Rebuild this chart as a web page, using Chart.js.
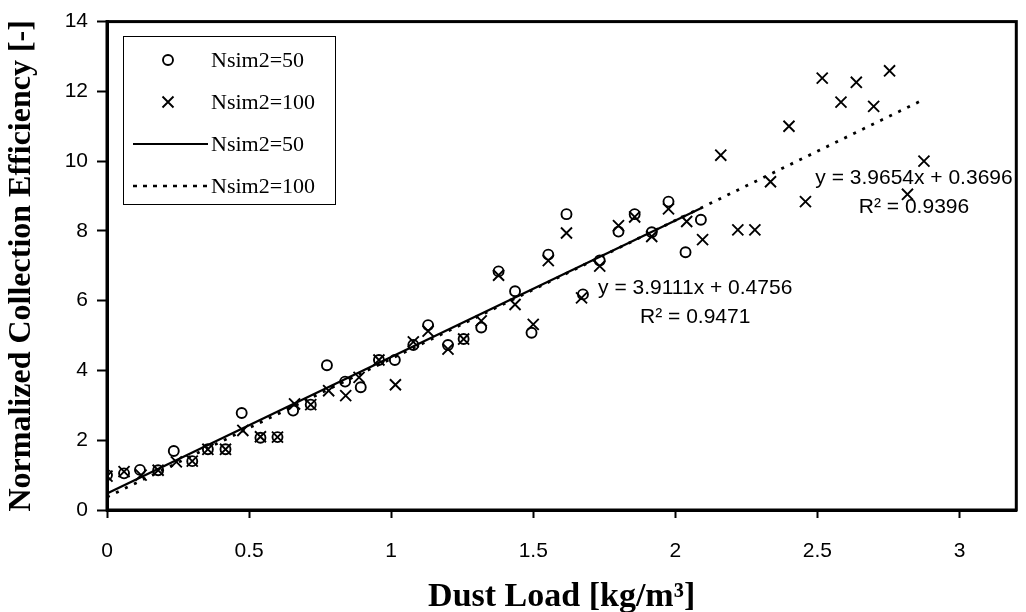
<!DOCTYPE html>
<html><head><meta charset="utf-8">
<script src="https://cdn.jsdelivr.net/npm/chart.js@4.4.1/dist/chart.umd.min.js"></script>
<style>html,body{margin:0;padding:0;background:#fff}#wrap{width:1026px;height:612px}</style>
</head><body><div id="wrap"><canvas id="c" width="1026" height="612"></canvas></div>
<script>
// ---- data ----
const x50 = [0,0.06,0.116,0.18,0.235,0.30,0.355,0.417,0.474,0.54,0.60,0.655,0.717,0.774,0.838,0.893,0.957,1.013,1.078,1.13,1.2,1.255,1.317,1.378,1.436,1.494,1.553,1.617,1.675,1.734,1.80,1.857,1.917,1.976,2.036,2.09];
const y50 = [1.0,1.05,1.15,1.14,1.69,1.40,1.74,1.74,2.78,2.07,2.09,2.85,3.02,4.15,3.68,3.52,4.3,4.3,4.73,5.3,4.73,4.9,5.23,6.84,6.27,5.08,7.32,8.48,6.18,7.15,7.98,8.48,7.96,8.84,7.39,8.32];
const x100 = [0,0.06,0.12,0.18,0.244,0.30,0.355,0.417,0.478,0.54,0.60,0.66,0.717,0.78,0.84,0.887,0.957,1.015,1.078,1.13,1.2,1.255,1.317,1.378,1.436,1.50,1.553,1.617,1.67,1.734,1.80,1.857,1.917,1.976,2.04,2.096,2.16,2.22,2.28,2.335,2.40,2.458,2.517,2.583,2.637,2.698,2.754,2.817,2.875];
const y100 = [0.97,1.1,1.0,1.14,1.38,1.40,1.74,1.74,2.28,2.1,2.09,3.04,3.02,3.42,3.28,3.8,4.3,3.59,4.82,5.13,4.61,4.9,5.42,6.73,5.89,5.32,7.15,7.94,6.08,6.99,8.15,8.4,7.84,8.63,8.27,7.75,10.17,8.03,8.03,9.41,11.0,8.84,12.38,11.69,12.26,11.57,12.59,9.05,10.0];
const trend50 = {slope: 3.9111, intercept: 0.4756, r2: '0.9471'};
const trend100 = {slope: 3.9654, intercept: 0.3696, r2: '0.9396'};
const seriesNames = ['Nsim2=50', 'Nsim2=100'];
const xTickValues = [0, 0.5, 1, 1.5, 2, 2.5, 3];
const yTickValues = [0, 2, 4, 6, 8, 10, 12, 14];
const xTitle = 'Dust Load [kg/m³]';
const yTitle = 'Normalized Collection Efficiency [-]';

const pts = (xs, ys) => xs.map((x, i) => ({x, y: ys[i]}));
const trendPts = (xs, t) => {
  const a = Math.min(...xs), b = Math.max(...xs);
  return [{x: a, y: t.slope * a + t.intercept}, {x: b, y: t.slope * b + t.intercept}];
};
const fmt = (t) => 'y = ' + t.slope.toFixed(4) + 'x + ' + t.intercept.toFixed(4);

const extras = {
  id: 'extras',
  afterDatasetsDraw(chart) {
    const {ctx, chartArea: a, scales: {x, y}} = chart;
    ctx.save();
    ctx.strokeStyle = '#000'; ctx.lineWidth = 3;
    ctx.strokeRect(a.left, a.top, a.right - a.left, a.bottom - a.top);
    // trendline equations
    ctx.fillStyle = '#000';
    ctx.font = '21px "Liberation Sans", Arial, sans-serif';
    ctx.textAlign = 'center'; ctx.textBaseline = 'alphabetic';
    const eq = (t, cx, cy) => {
      const px = x.getPixelForValue(cx), py = y.getPixelForValue(cy);
      ctx.fillText(fmt(t), px, py);
      ctx.fillText('R² = ' + t.r2, px, py + 29);
    };
    eq(trend50, 2.07, 6.19);
    eq(trend100, 2.84, 9.35);
    // legend
    const L = 123, T = 36, W = 212, H = 168;
    ctx.fillStyle = '#fff'; ctx.fillRect(L, T, W, H);
    ctx.lineWidth = 1; ctx.strokeStyle = '#000';
    ctx.strokeRect(L + 0.5, T + 0.5, W, H);
    const rows = [60, 102, 144, 186];
    ctx.font = '22px "Liberation Serif", "Times New Roman", serif';
    ctx.textAlign = 'left'; ctx.textBaseline = 'middle'; ctx.fillStyle = '#000';
    const labels = [seriesNames[0], seriesNames[1], seriesNames[0], seriesNames[1]];
    rows.forEach((ry, i) => ctx.fillText(labels[i], 211, ry + 1));
    ctx.lineWidth = 1.9;
    ctx.beginPath(); ctx.arc(168, rows[0], 5, 0, Math.PI * 2); ctx.stroke();
    const d = 5.5;
    ctx.beginPath();
    ctx.moveTo(168 - d, rows[1] - d); ctx.lineTo(168 + d, rows[1] + d);
    ctx.moveTo(168 + d, rows[1] - d); ctx.lineTo(168 - d, rows[1] + d);
    ctx.stroke();
    ctx.lineWidth = 2;
    ctx.beginPath(); ctx.moveTo(133, rows[2]); ctx.lineTo(208, rows[2]); ctx.stroke();
    ctx.lineWidth = 2.5; ctx.setLineDash([4, 6]);
    ctx.beginPath(); ctx.moveTo(133, rows[3]); ctx.lineTo(208, rows[3]); ctx.stroke();
    ctx.restore();
  }
};

new Chart(document.getElementById('c'), {
  type: 'scatter',
  data: {
    datasets: [
      {label: seriesNames[0], data: pts(x50, y50), pointStyle: 'circle', pointRadius: 5,
       borderColor: '#000', backgroundColor: 'rgba(0,0,0,0)', pointBorderWidth: 1.9, showLine: false},
      {label: seriesNames[1], data: pts(x100, y100), pointStyle: 'crossRot', pointRadius: 7.8,
       borderColor: '#000', pointBorderWidth: 1.9, showLine: false},
      {label: seriesNames[0] + ' fit', data: trendPts(x50, trend50), showLine: true, borderColor: '#000',
       borderWidth: 2.2, pointRadius: 0},
      {label: seriesNames[1] + ' fit', data: trendPts(x100, trend100), showLine: true, borderColor: '#000',
       borderWidth: 2.8, borderDash: [3, 7], pointRadius: 0}
    ]
  },
  options: {
    responsive: false, animation: false, devicePixelRatio: 1,
    layout: {padding: {top: 20, right: 7, left: 0, bottom: 0}},
    plugins: {legend: {display: false}, tooltip: {enabled: false}},
    scales: {
      x: {
        type: 'linear', min: 0, max: 3.2,
        afterBuildTicks: (s) => { s.ticks = xTickValues.map(v => ({value: v})); },
        afterFit: (s) => { s.height = 102; },
        ticks: {color: '#000', font: {family: '"Liberation Sans", Arial, sans-serif', size: 21}, padding: 21,
                callback: (v) => String(v), maxRotation: 0, autoSkip: false},
        grid: {drawOnChartArea: false, drawTicks: true, tickLength: 8, tickWidth: 2, tickColor: '#000'},
        border: {display: true, color: '#000', width: 3},
        title: {display: true, text: xTitle, color: '#000',
                font: {family: '"Liberation Serif", "Times New Roman", serif', size: 34, weight: 'bold', lineHeight: 1},
                padding: {top: 0, bottom: -2}}
      },
      y: {
        type: 'linear', min: 0, max: 14,
        afterBuildTicks: (s) => { s.ticks = yTickValues.map(v => ({value: v})); },
        afterFit: (s) => { s.width = 107; },
        ticks: {color: '#000', font: {family: '"Liberation Sans", Arial, sans-serif', size: 21}, padding: 9,
                callback: (v) => String(v)},
        grid: {drawOnChartArea: false, drawTicks: true, tickLength: 10, tickWidth: 2, tickColor: '#000'},
        border: {display: true, color: '#000', width: 3},
        title: {display: true, text: yTitle, color: '#000',
                font: {family: '"Liberation Serif", "Times New Roman", serif', size: 32, weight: 'bold', lineHeight: 1.2},
                padding: {top: 3, bottom: 0}}
      }
    }
  },
  plugins: [extras]
});
</script>
</body></html>
